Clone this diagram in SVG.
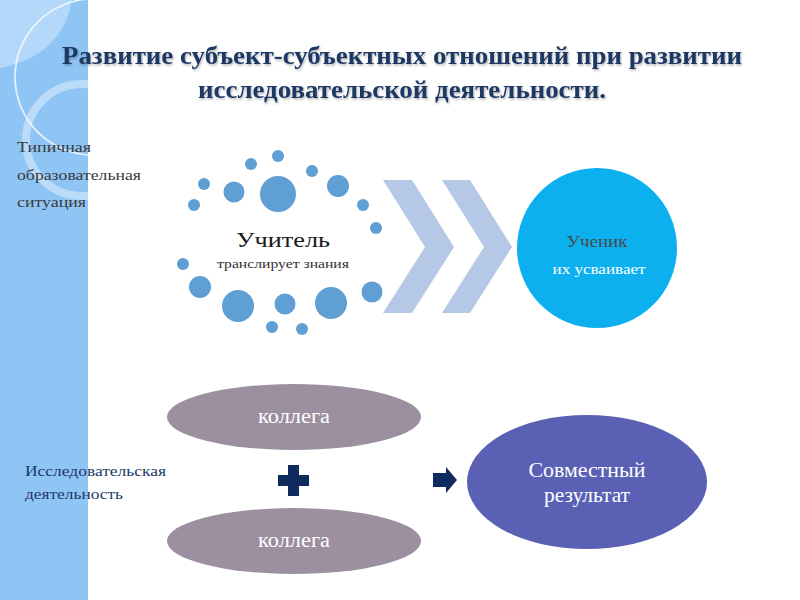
<svg xmlns="http://www.w3.org/2000/svg" width="800" height="600" viewBox="0 0 800 600">
<defs>
<style>
.dot{fill:#5f9fd4}
.chev{fill:#b5c8e5}
.koll{fill:#9c8fa0}
.wt{fill:#ffffff}
.side{font-size:15px;fill:#3a3a3a}
.side2{font-size:15px;fill:#22386a}
</style>
<clipPath id="band"><rect x="0" y="0" width="88" height="600"/></clipPath>
<filter id="sh" x="-5%" y="-20%" width="110%" height="150%"><feDropShadow dx="1" dy="1.5" stdDeviation="0.8" flood-color="#000" flood-opacity="0.3"/></filter>
</defs>
<rect width="800" height="600" fill="#ffffff"/>
<g id="band-deco">
<rect x="0" y="0" width="88" height="600" fill="#8ec5f5"/>
<g clip-path="url(#band)">
<path d="M0,0 H72 Q62,56 0,68 Z" fill="#b3d8f9"/>
<circle cx="93" cy="77" r="78" fill="none" stroke="#ffffff" stroke-opacity="0.75" stroke-width="1.8"/>
<circle cx="82" cy="140" r="56" fill="none" stroke="#ffffff" stroke-opacity="0.4" stroke-width="8"/>
</g>
</g>
<g id="title" font-family="'Liberation Serif', serif" font-weight="bold" fill="#1f3864" font-size="25" text-anchor="middle" filter="url(#sh)">
<text x="402" y="64" textLength="680" lengthAdjust="spacingAndGlyphs">Развитие субъект-субъектных отношений при развитии</text>
<text x="402" y="98" textLength="408" lengthAdjust="spacingAndGlyphs">исследовательской деятельности.</text>
</g>
<g id="label-typical" class="side" font-family="'Liberation Serif', serif">
<text x="17" y="152" textLength="74" lengthAdjust="spacingAndGlyphs">Типичная</text>
<text x="17" y="180" textLength="124" lengthAdjust="spacingAndGlyphs">образовательная</text>
<text x="17" y="207" textLength="69" lengthAdjust="spacingAndGlyphs">ситуация</text>
</g>
<g id="label-research" class="side2" font-family="'Liberation Serif', serif">
<text x="25" y="476" textLength="141" lengthAdjust="spacingAndGlyphs">Исследовательская</text>
<text x="25" y="499" textLength="98" lengthAdjust="spacingAndGlyphs">деятельность</text>
</g>
<g id="teacher" font-family="'Liberation Serif', serif">
<circle class="dot" cx="278" cy="156" r="6"/>
<circle class="dot" cx="251" cy="164" r="6"/>
<circle class="dot" cx="204" cy="184" r="6"/>
<circle class="dot" cx="234" cy="192" r="10.5"/>
<circle class="dot" cx="278" cy="194" r="18"/>
<circle class="dot" cx="312" cy="171" r="6"/>
<circle class="dot" cx="338" cy="186" r="11"/>
<circle class="dot" cx="363" cy="205" r="6"/>
<circle class="dot" cx="194" cy="205" r="6"/>
<circle class="dot" cx="376" cy="228" r="6"/>
<circle class="dot" cx="183" cy="264" r="6"/>
<circle class="dot" cx="200" cy="287" r="11"/>
<circle class="dot" cx="238" cy="306" r="16"/>
<circle class="dot" cx="285" cy="304" r="10.5"/>
<circle class="dot" cx="331" cy="303" r="16"/>
<circle class="dot" cx="372" cy="292" r="10.5"/>
<circle class="dot" cx="272" cy="327" r="6"/>
<circle class="dot" cx="302" cy="329" r="6"/>
<text x="283" y="247" font-size="22" fill="#1a1a1a" text-anchor="middle" textLength="94" lengthAdjust="spacingAndGlyphs">Учитель</text>
<text x="283" y="268" font-size="12.5" fill="#333333" text-anchor="middle" textLength="132" lengthAdjust="spacingAndGlyphs">транслирует знания</text>
</g>
<g id="connectors">
<polygon class="chev" points="383,180 412,180 454,247 412,313 383,313 425,247"/>
<polygon class="chev" points="442,180 470,180 512,247 470,313 442,313 484,247"/>
<path d="M433,473 H446 V467 L457,480 L446,493 V487 H433 Z" fill="#0f2b5e"/>
<path d="M288,465 H299 V475 H309 V486 H299 V496 H288 V486 H278 V475 H288 Z" fill="#0f2b5e"/>
</g>
<g id="student" font-family="'Liberation Serif', serif">
<circle cx="597" cy="248" r="80" fill="#0cb0ef"/>
<text x="597" y="247" font-size="17" fill="#4a4a4a" text-anchor="middle" textLength="61" lengthAdjust="spacingAndGlyphs">Ученик</text>
<text class="wt" x="599" y="274" font-size="14" text-anchor="middle" textLength="93" lengthAdjust="spacingAndGlyphs">их усваивает</text>
</g>
<g id="colleague1" font-family="'Liberation Serif', serif">
<ellipse class="koll" cx="294" cy="417" rx="127" ry="33"/>
<text class="wt" x="294" y="423" font-size="20" text-anchor="middle" textLength="72" lengthAdjust="spacingAndGlyphs">коллега</text>
</g>
<g id="colleague2" font-family="'Liberation Serif', serif">
<ellipse class="koll" cx="294" cy="541" rx="127" ry="33"/>
<text class="wt" x="294" y="547" font-size="20" text-anchor="middle" textLength="72" lengthAdjust="spacingAndGlyphs">коллега</text>
</g>
<g id="result" font-family="'Liberation Serif', serif">
<ellipse cx="587" cy="482" rx="120" ry="67" fill="#5a61b5"/>
<text class="wt" x="587" y="477" font-size="22" text-anchor="middle" textLength="117" lengthAdjust="spacingAndGlyphs">Совместный</text>
<text class="wt" x="587" y="502" font-size="22" text-anchor="middle" textLength="86" lengthAdjust="spacingAndGlyphs">результат</text>
</g>
</svg>
